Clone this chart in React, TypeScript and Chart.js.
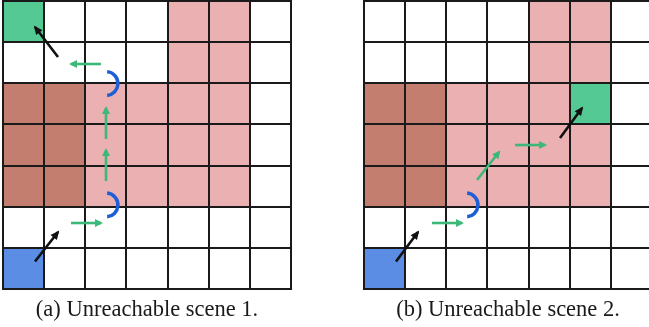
import React, { useEffect, useRef } from "react";
import { Chart, registerables } from "chart.js";

Chart.register(...registerables);

// ---- data (grid units: column from left of each scene, row from top) ----
const gridCols = 7;
const gridRows = 7;
const sceneOffsets = [0, 8.773];
const captions = ["(a) Unreachable scene 1.", "(b) Unreachable scene 2."];

const sceneAGoal: number[][] = [[0, 0]];
const sceneAStart: number[][] = [[0, 6]];
const sceneADark: number[][] = [[0, 2], [1, 2], [0, 3], [1, 3], [0, 4], [1, 4]];
const sceneAPink: number[][] = [
  [4, 0], [5, 0], [4, 1], [5, 1],
  [2, 2], [3, 2], [4, 2], [5, 2],
  [2, 3], [3, 3], [4, 3], [5, 3],
  [2, 4], [3, 4], [4, 4], [5, 4],
];

const sceneBGoal: number[][] = [[5, 2]];
const sceneBStart: number[][] = [[0, 6]];
const sceneBDark: number[][] = [[0, 2], [1, 2], [0, 3], [1, 3], [0, 4], [1, 4]];
const sceneBPink: number[][] = [
  [4, 0], [5, 0], [4, 1], [5, 1],
  [2, 2], [3, 2], [4, 2],
  [2, 3], [3, 3], [4, 3], [5, 3],
  [2, 4], [3, 4], [4, 4], [5, 4],
];

// arrows: [x0, y0, x1, y1] (tail -> head)
const sceneABlackArrows: number[][] = [
  [0.778, 6.33, 1.337, 5.614],
  [1.337, 1.361, 0.778, 0.632],
];
const sceneAGreenArrows: number[][] = [
  [1.652, 5.395, 2.381, 5.395],
  [2.503, 4.374, 2.503, 3.62],
  [2.503, 3.354, 2.503, 2.6],
  [2.38, 1.531, 1.652, 1.531],
];
const sceneATurns: number[][] = [
  [2.503, 4.957],
  [2.503, 2.005],
];

const sceneBBlackArrows: number[][] = [
  [0.778, 6.33, 1.312, 5.614],
  [4.763, 3.33, 5.298, 2.6],
];
const sceneBGreenArrows: number[][] = [
  [1.652, 5.395, 2.381, 5.395],
  [2.746, 4.35, 3.28, 3.67],
  [3.67, 3.5, 4.4, 3.5],
];
const sceneBTurns: number[][] = [[2.479, 4.957]];

const scenes = [
  { goal: sceneAGoal, start: sceneAStart, dark: sceneADark, pink: sceneAPink, black: sceneABlackArrows, green: sceneAGreenArrows, turns: sceneATurns },
  { goal: sceneBGoal, start: sceneBStart, dark: sceneBDark, pink: sceneBPink, black: sceneBBlackArrows, green: sceneBGreenArrows, turns: sceneBTurns },
];

const COLORS = {
  goal: "#55C993",
  start: "#5B8DE4",
  dark: "#C47E6F",
  pink: "#EBB0B1",
  green: "#3CB878",
  black: "#111111",
  turn: "#1F5FD6",
  line: "#1a1a1a",
};

export default function App() {
  const ref = useRef<HTMLCanvasElement | null>(null);

  useEffect(() => {
    if (!ref.current) return;
    const datasets: any[] = [];
    scenes.forEach((s, si) => {
      const off = sceneOffsets[si];
      s.black.forEach((a) =>
        datasets.push({
          data: [{ x: a[0] + off, y: a[1] }, { x: a[2] + off, y: a[3] }],
          showLine: true,
          borderColor: COLORS.black,
          borderWidth: 2.6,
          pointRadius: 0,
          arrowColor: COLORS.black,
          headLen: 9,
          headW: 8,
        })
      );
      s.green.forEach((a) =>
        datasets.push({
          data: [{ x: a[0] + off, y: a[1] }, { x: a[2] + off, y: a[3] }],
          showLine: true,
          borderColor: COLORS.green,
          borderWidth: 2.6,
          pointRadius: 0,
          arrowColor: COLORS.green,
          headLen: 8,
          headW: 8,
        })
      );
    });

    const gridPlugin = {
      id: "gridScenes",
      beforeDatasetsDraw(chart: any) {
        const { ctx, scales } = chart;
        const xs = scales.x;
        const ys = scales.y;
        const px = (v: number) => xs.getPixelForValue(v);
        const py = (v: number) => ys.getPixelForValue(v);
        ctx.save();
        scenes.forEach((s, si) => {
          const off = sceneOffsets[si];
          const fill = (cells: number[][], color: string) => {
            ctx.fillStyle = color;
            cells.forEach(([c, r]) => {
              const x0 = px(c + off), x1 = px(c + 1 + off);
              const y0 = py(r), y1 = py(r + 1);
              ctx.fillRect(x0, y0, x1 - x0, y1 - y0);
            });
          };
          fill(s.pink, COLORS.pink);
          fill(s.dark, COLORS.dark);
          fill(s.goal, COLORS.goal);
          fill(s.start, COLORS.start);
          ctx.strokeStyle = COLORS.line;
          ctx.lineWidth = 2;
          ctx.beginPath();
          for (let c = 0; c <= gridCols; c++) {
            const x = Math.round(px(c + off)) + 0;
            ctx.moveTo(x, py(0) - 1);
            ctx.lineTo(x, py(gridRows) + 1);
          }
          for (let r = 0; r <= gridRows; r++) {
            const y = Math.round(py(r));
            ctx.moveTo(px(off) - 1, y);
            ctx.lineTo(px(gridCols + off) + 1, y);
          }
          ctx.stroke();
        });
        ctx.restore();
      },
      afterDatasetsDraw(chart: any) {
        const { ctx, scales } = chart;
        const xs = scales.x;
        const ys = scales.y;
        ctx.save();
        chart.data.datasets.forEach((ds: any, i: number) => {
          const pts = chart.getDatasetMeta(i).data;
          if (pts.length < 2) return;
          const a = pts[0], b = pts[1];
          const ang = Math.atan2(b.y - a.y, b.x - a.x);
          const tipX = b.x + Math.cos(ang) * 2;
          const tipY = b.y + Math.sin(ang) * 2;
          const L = ds.headLen, W = ds.headW / 2;
          const bx = tipX - Math.cos(ang) * L, by = tipY - Math.sin(ang) * L;
          ctx.fillStyle = ds.arrowColor;
          ctx.beginPath();
          ctx.moveTo(tipX, tipY);
          ctx.lineTo(bx + Math.sin(ang) * W, by - Math.cos(ang) * W);
          ctx.lineTo(bx - Math.sin(ang) * W, by + Math.cos(ang) * W);
          ctx.closePath();
          ctx.fill();
        });
        // turn arcs
        ctx.strokeStyle = COLORS.turn;
        ctx.lineWidth = 3.5;
        ctx.lineCap = "butt";
        scenes.forEach((s, si) => {
          const off = sceneOffsets[si];
          s.turns.forEach(([c, r]) => {
            const cx = xs.getPixelForValue(c + off);
            const cy = ys.getPixelForValue(r);
            const rad = Math.abs(xs.getPixelForValue(0.29) - xs.getPixelForValue(0));
            ctx.beginPath();
            ctx.arc(cx, cy, rad, -Math.PI * 0.47, Math.PI * 0.47);
            ctx.stroke();
          });
        });
        ctx.restore();
      },
      afterDraw(chart: any) {
        const { ctx, scales } = chart;
        ctx.save();
        ctx.fillStyle = "#1a1a1a";
        ctx.font = '22.5px "Liberation Serif", "Times New Roman", serif';
        ctx.textAlign = "center";
        ctx.textBaseline = "alphabetic";
        captions.forEach((t, si) => {
          const cx = scales.x.getPixelForValue(sceneOffsets[si] + gridCols / 2);
          const cy = scales.y.getPixelForValue(gridRows + 0.66);
          ctx.fillText(t, cx, cy);
        });
        ctx.restore();
      },
    };

    const unit = 41.15;
    const chart = new Chart(ref.current, {
      type: "scatter",
      data: { datasets },
      options: {
        animation: false,
        responsive: false,
        devicePixelRatio: 1,
        layout: { padding: 0 },
        plugins: { legend: { display: false }, tooltip: { enabled: false } },
        events: [],
        scales: {
          x: { type: "linear", display: false, min: -3 / unit, max: 646 / unit },
          y: { type: "linear", display: false, reverse: true, min: -1 / unit, max: 326 / unit },
        },
      },
      plugins: [gridPlugin],
    } as any);
    return () => chart.destroy();
  }, []);

  return (
    <div style={{ position: "fixed", left: 0, top: 0, width: 649, height: 327, background: "#fff" }}>
      <canvas ref={ref} width={649} height={327} style={{ display: "block" }} />
    </div>
  );
}
